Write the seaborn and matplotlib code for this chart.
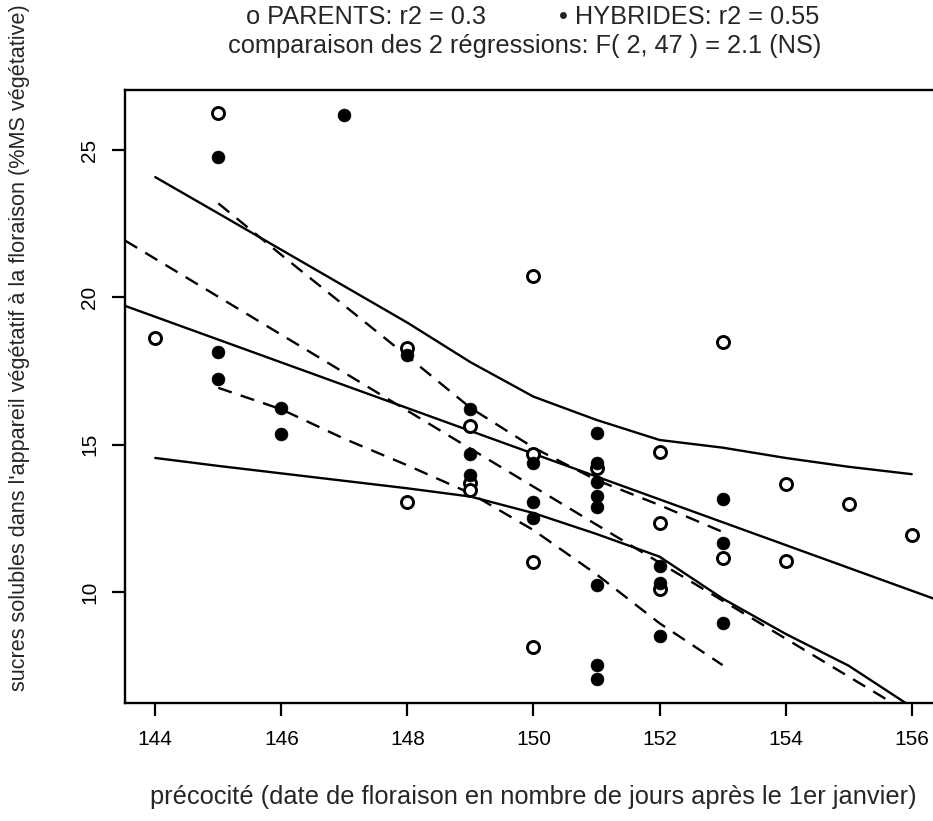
import matplotlib
matplotlib.use("Agg")
import matplotlib.pyplot as plt
import seaborn as sns
import pandas as pd

sns.set_theme(style="white")
plt.rcParams['font.family'] = ['Liberation Sans', 'DejaVu Sans']

# ---- data ----
parents_x = [144, 145, 148, 148, 149, 149, 149, 150, 150, 150, 150,
             151, 152, 152, 152, 153, 153, 154, 154, 155, 156]
parents_y = [18.62, 26.26, 18.27, 13.06, 15.65, 13.70, 13.46, 20.72, 14.68, 11.03, 8.15,
             14.20, 14.76, 12.34, 10.12, 18.49, 11.14, 13.67, 11.06, 12.98, 11.92]

hybrids_x = [145, 145, 145, 146, 146, 147, 148, 149, 149, 149, 150, 150, 150,
             151, 151, 151, 151, 151, 151, 151, 151, 152, 152, 152, 153, 153, 153]
hybrids_y = [24.76, 18.16, 17.22, 16.23, 15.36, 26.19, 18.04, 16.20, 14.67, 13.97,
             14.37, 13.07, 12.50, 15.41, 14.37, 13.75, 13.26, 12.88, 10.24, 7.52, 7.04,
             10.88, 10.30, 8.51, 13.15, 11.65, 8.96]

# regression lines (point on line, slope)
parents_line = (144, 19.34, -0.7745)
hybrids_line = (145, 20.02, -1.289)

# confidence bands
parents_band_x = [144, 145, 148, 149, 150, 151, 152, 153, 154, 155, 156]
parents_upper = [24.08, 22.85, 19.14, 17.80, 16.63, 15.84, 15.16, 14.90, 14.55, 14.25, 14.00]
parents_lower = [14.55, 14.28, 13.52, 13.24, 12.68, 11.97, 11.20, 9.78, 8.58, 7.50, 6.10]

hybrids_band_x = [145, 146, 147, 148, 149, 150, 151, 152, 153]
hybrids_upper = [23.19, 21.44, 19.72, 18.00, 16.25, 14.90, 13.80, 12.95, 12.04]
hybrids_lower = [16.93, 16.20, 15.20, 14.30, 13.35, 12.10, 10.60, 8.94, 7.52]

x_ticks = [144, 146, 148, 150, 152, 154, 156]
y_ticks = [10, 15, 20, 25]

title1a = "o PARENTS: r2 = 0.3"
title1b = "\u2022 HYBRIDES: r2 = 0.55"
title2 = "comparaison des 2 régressions: F( 2, 47 ) = 2.1 (NS)"
xlabel = "précocité (date de floraison en nombre de jours après le 1er janvier)"
ylabel = "sucres solubles dans l'appareil végétatif à la floraison (%MS végétative)"

# ---- figure ----
W, H = 933, 821
fig = plt.figure(figsize=(W / 100, H / 100), dpi=100)
ax = fig.add_axes([125 / W, (H - 703) / H, (942 - 125) / W, (703 - 90) / H])

par = pd.DataFrame({"x": parents_x, "y": parents_y})
hyb = pd.DataFrame({"x": hybrids_x, "y": hybrids_y})

sns.scatterplot(data=par, x="x", y="y", ax=ax, marker="o", s=75,
                facecolor="white", edgecolor="black", linewidth=2.1, zorder=3)
sns.scatterplot(data=hyb, x="x", y="y", ax=ax, marker="o", s=85,
                color="black", edgecolor="black", linewidth=0.5, zorder=4)

lw = 1.7
for band in (parents_upper, parents_lower):
    sns.lineplot(x=parents_band_x, y=band, ax=ax, color="black", linewidth=lw,
                 estimator=None, sort=False, zorder=2)
for band in (hybrids_upper, hybrids_lower):
    sns.lineplot(x=hybrids_band_x, y=band, ax=ax, color="black", linewidth=lw,
                 estimator=None, sort=False, linestyle=(0, (6, 4)), zorder=2)

ax.axline((parents_line[0], parents_line[1]), slope=parents_line[2],
          color="black", linewidth=lw, zorder=2)
ax.axline((hybrids_line[0], hybrids_line[1]), slope=hybrids_line[2],
          color="black", linewidth=lw, linestyle=(0, (6, 4)), zorder=2)

ax.set_xlim(143.52, 156.48)
ax.set_ylim(6.235, 27.036)
ax.set_xticks(x_ticks)
ax.set_xticklabels([str(t) for t in x_ticks])
ax.set_yticks(y_ticks)
ax.set_yticklabels([str(t) for t in y_ticks], rotation=90, va="center")

for sp in ax.spines.values():
    sp.set_visible(True)
    sp.set_color("black")
    sp.set_linewidth(1.7)

ax.tick_params(axis="both", direction="out", length=9.5, width=1.6, colors="black",
               labelsize=15, bottom=True, left=True)
ax.tick_params(axis="x", pad=10)
ax.tick_params(axis="y", pad=9)
ax.grid(False)

ax.set_xlabel("")
ax.set_ylabel("")
fs = 18.3
fig.text(533 / W, 1 - 797 / H, xlabel, ha="center", va="center", fontsize=fs)
fig.text(20 / W, 1 - 348 / H, ylabel, ha="center", va="center", fontsize=15.6, rotation=90)

fig.text(366 / W, 1 - 17 / H, title1a, ha="center", va="center", fontsize=fs)
fig.text(819 / W, 1 - 17 / H, title1b, ha="right", va="center", fontsize=fs)
fig.text(525 / W, 1 - 46 / H, title2, ha="center", va="center", fontsize=fs)

fig.savefig("out.png", dpi=100)
